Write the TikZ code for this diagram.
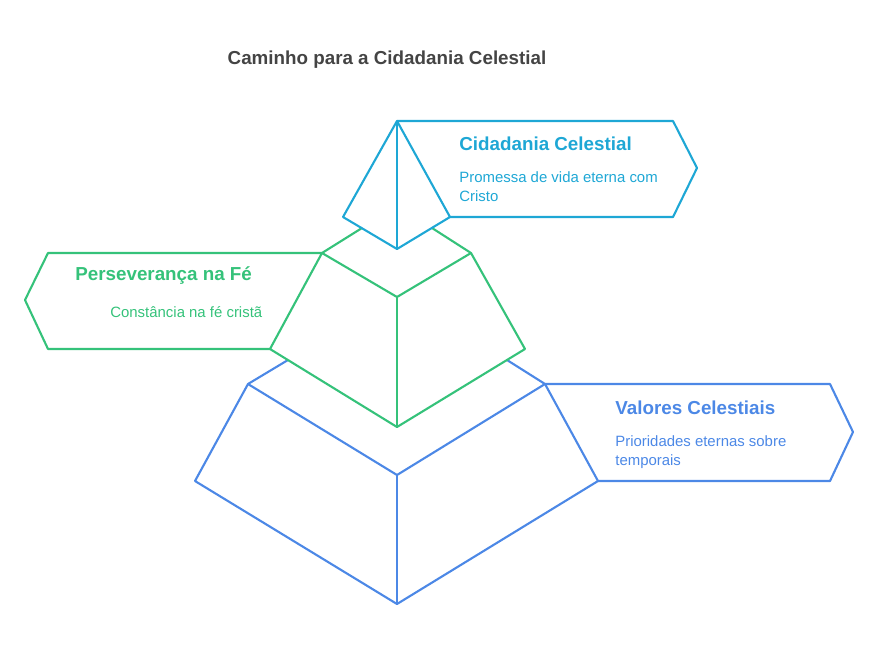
\documentclass[tikz,border=0pt]{standalone}
\usepackage{fontspec}
\setmainfont{Liberation Sans}
\definecolor{topc}{HTML}{1EA7D5}
\definecolor{midc}{HTML}{35C27A}
\definecolor{lowc}{HTML}{4C88E6}
\definecolor{titlec}{HTML}{444444}
\begin{document}
\begin{tikzpicture}[x=0.02cm,y=-0.02cm,
  edge/.style={line width=1.2pt, line join=round},
  head/.style={font=\bfseries\fontsize{10.7}{13}\selectfont, anchor=west, inner sep=0pt},
  body/.style={font=\fontsize{8.5}{11}\selectfont, anchor=north west, align=left, inner sep=0pt}]
\useasboundingbox (0,0) rectangle (878,653);

% Title
\node[font=\bfseries\fontsize{10.7}{13}\selectfont, text=titlec] (title) at (387,60) {Caminho para a Cidadania Celestial};

% Bottom level
\draw[edge, lowc] (288,360) -- (248,384) -- (397,475) -- (545,384) -- (507,360);
\draw[edge, lowc] (248,384) -- (195,481) -- (397,604) -- (598,481) -- (545,384);
\draw[edge, lowc] (397,475) -- (397,604);
\draw[edge, lowc] (545,384) -- (830,384) -- (853,432) -- (830,481) -- (598,481);
\node[head, text=lowc] (lowhead) at (615,408) {Valores Celestiais};
\node[body, text=lowc] (lowbody) at (615,435) {Prioridades eternas sobre\\temporais};

% Middle level
\draw[edge, midc] (362,228) -- (322,253) -- (397,297) -- (471,253) -- (432,228);
\draw[edge, midc] (322,253) -- (270,349) -- (397,427) -- (525,349) -- (471,253);
\draw[edge, midc] (397,297) -- (397,427);
\draw[edge, midc] (322,253) -- (48,253) -- (25,300) -- (48,349) -- (270,349);
\node[head, text=midc] (midhead) at (75,276) {Perseverança na Fé};
\node[body, text=midc] (midbody) at (110,306) {Constância na fé cristã};

% Top level
\draw[edge, topc] (397,121) -- (343,217) -- (397,249) -- (450,217) -- cycle;
\draw[edge, topc] (397,121) -- (397,249);
\draw[edge, topc] (397,121) -- (673,121) -- (697,168) -- (673,217) -- (450,217);
\node[head, text=topc] (tophead) at (459,144) {Cidadania Celestial};
\node[body, text=topc] (topbody) at (459,171) {Promessa de vida eterna com\\Cristo};
\end{tikzpicture}
\end{document}
